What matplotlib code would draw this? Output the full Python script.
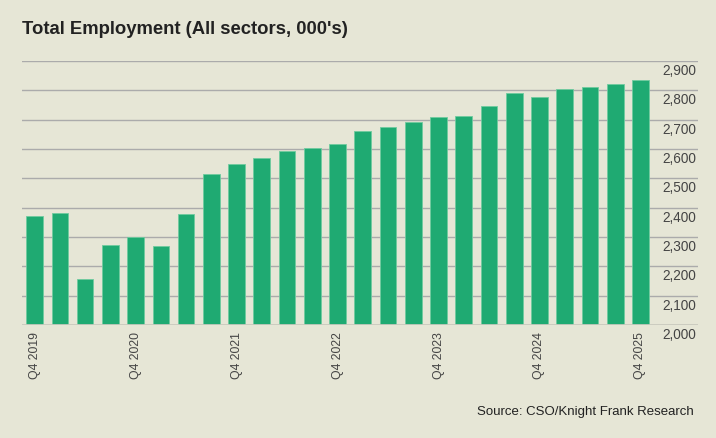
import matplotlib
matplotlib.use("Agg")
import matplotlib.pyplot as plt
import matplotlib.transforms as mtransforms

quarters = ["Q4 2019", "Q1 2020", "Q2 2020", "Q3 2020", "Q4 2020", "Q1 2021", "Q2 2021",
            "Q3 2021", "Q4 2021", "Q1 2022", "Q2 2022", "Q3 2022", "Q4 2022", "Q1 2023",
            "Q2 2023", "Q3 2023", "Q4 2023", "Q1 2024", "Q2 2024", "Q3 2024", "Q4 2024",
            "Q1 2025", "Q2 2025", "Q3 2025", "Q4 2025"]
employment = [2370, 2383, 2158, 2273, 2300, 2271, 2377, 2514, 2549, 2570, 2594, 2602,
              2617, 2663, 2675, 2693, 2709, 2714, 2746, 2791, 2778, 2805, 2812, 2820, 2835]
yticks = [2000, 2100, 2200, 2300, 2400, 2500, 2600, 2700, 2800, 2900]
ytick_labels = ["2,000", "2,100", "2,200", "2,300", "2,400", "2,500", "2,600", "2,700", "2,800", "2,900"]
title = "Total Employment (All sectors, 000's)"
source = "Source: CSO/Knight Frank Research"

BG = "#E6E6D6"
GREEN = "#1FAA72"
plt.rcParams["font.family"] = ["Liberation Sans", "DejaVu Sans"]

fig = plt.figure(figsize=(7.16, 4.38), dpi=100, facecolor=BG)
ax = fig.add_axes([22/716, 1-325/438, (698-22)/716, (325-61)/438])
ax.set_facecolor(BG)

x = list(range(len(employment)))
ax.bar(x, employment, width=0.66, color=GREEN, edgecolor="#6FCB9F", linewidth=0.6, zorder=3)

ax.set_xlim(-0.5, 26.28)
ax.set_ylim(2000, 2900)

for s in ax.spines.values():
    s.set_visible(False)

for yv in yticks[1:]:
    ax.axhline(yv, color="#ABABAB", linewidth=1.0, zorder=1)
ax.axhline(2000, color="#C9C9BE", linewidth=2.0, zorder=4)

ax.yaxis.tick_right()
ax.set_yticks(yticks)
ax.set_yticklabels(ytick_labels)
ax.tick_params(axis="y", length=0, pad=-1, labelsize=9.8, labelcolor="#444444")
offset = mtransforms.ScaledTranslation(0, -3/100, fig.dpi_scale_trans)
for lab in ax.get_yticklabels():
    lab.set_horizontalalignment("right")
    lab.set_verticalalignment("top")
    lab.set_transform(lab.get_transform() + offset)

ax.set_xticks(x[::4])
ax.set_xticklabels(quarters[::4], rotation=90, va="top", ha="center")
ax.tick_params(axis="x", length=0, pad=5, labelsize=8.8, labelcolor="#444444")

fig.text(22/716, 1-30/438, title, fontsize=13.3, fontweight="bold", color="#222222",
         ha="left", va="center")
fig.text(694/716, 1-412/438, source, fontsize=9.5, color="#222222", ha="right", va="center")

fig.savefig("out.png", dpi=100, facecolor=BG)
